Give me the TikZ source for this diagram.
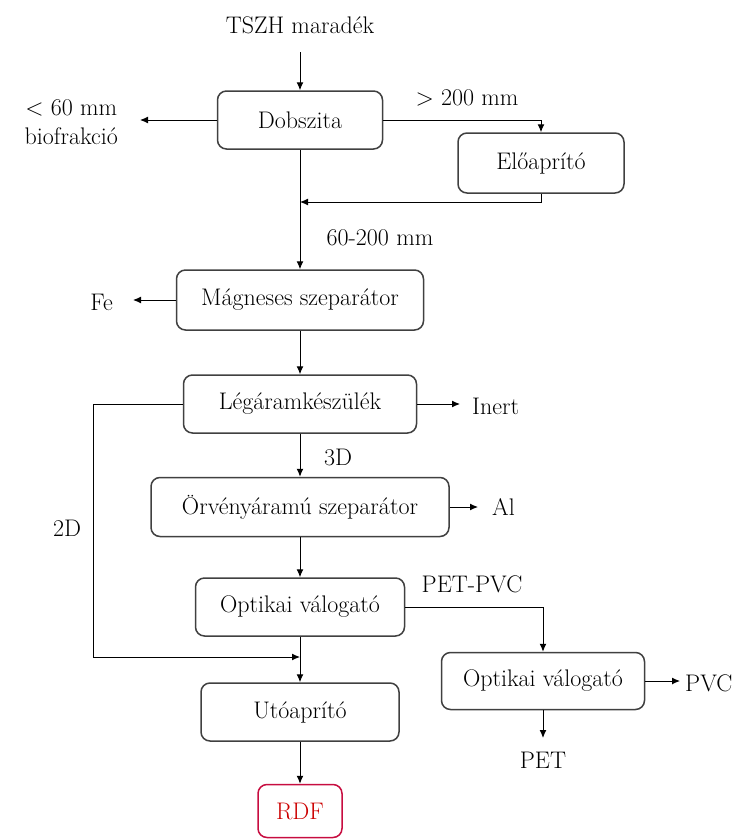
\documentclass[tikz,border=0pt]{standalone}
\usepackage{fontspec}
\usetikzlibrary{arrows.meta,calc}
\definecolor{BoxClr}{rgb}{0.25,0.25,0.25}
\definecolor{RdfClr}{rgb}{0.78,0.05,0.25}
\definecolor{RdfTxt}{rgb}{0.8,0,0}

\begin{document}
\begin{tikzpicture}[x=1pt,y=-1pt,
  font=\fontsize{24}{29}\selectfont,
  unit/.style={draw=BoxClr,line width=1.5pt,rounded corners=9pt,minimum height=58pt,inner sep=0pt},
  lbl/.style={inner xsep=12pt,inner ysep=6pt},
  flow/.style={-{Latex[length=8pt,width=7pt]},line width=1pt}]
\useasboundingbox (0,0) rectangle (736,839);

\node (tszh) at (300,25) {TSZH maradék};
\node[unit,minimum width=165pt] (dob) at (300,120) {Dobszita};
\node[unit,minimum width=166pt,minimum height=60pt] (elo) at (541,163) {Előaprító};
\node[unit,minimum width=247pt,minimum height=60pt] (magn) at (300,300) {Mágneses szeparátor};
\node[unit,minimum width=233pt] (leg) at (300,404) {Légáramkészülék};
\node[unit,minimum width=298pt,minimum height=59pt] (orv) at (300,507) {Örvényáramú szeparátor};
\node[unit,minimum width=209pt] (opt) at (300,607) {Optikai válogató};
\node[unit,minimum width=203pt,minimum height=57pt] (opt2) at (543,681) {Optikai válogató};
\node[unit,minimum width=198pt] (uto) at (300,712) {Utóaprító};
\node[unit,draw=RdfClr,text=RdfTxt,minimum width=84pt,minimum height=53pt] (rdf) at (300,811) {RDF};

\node[lbl,anchor=east,align=center,inner xsep=22pt] (bio) at (140,122) {< 60 mm\\biofrakció};
\node[lbl,anchor=east,inner xsep=20pt] (fe) at (133,302) {Fe};
\node (gt) at (467,98) {> 200 mm};
\node (mid) at (380,238) {60-200 mm};
\node[lbl,anchor=west] (inert) at (460,406) {Inert};
\node (d3) at (338,457) {3D};
\node (d2) at (67,528) {2D};
\node[lbl,anchor=west,inner xsep=14pt] (al) at (478,507) {Al};
\node (pp) at (472,584) {PET-PVC};
\node[lbl,anchor=west,inner xsep=5pt] (pvc) at (680,683) {PVC};
\node[lbl,anchor=north,inner ysep=14pt] (pet) at (543,738) {PET};

\coordinate (j1) at (300,202);
\coordinate (b2) at (93,657);
\coordinate (j2) at (300,657);

\draw[flow] ([yshift=-27pt]tszh.center) -- (dob.north);
\draw[flow] (dob.west) -- (dob.west -| bio.east);
\draw[flow] (dob.east) -| (elo.north);
\draw[flow] (elo.south) |- (j1);
\draw[flow] (dob.south) -- (magn.north);
\draw[flow] (magn.west) -- (magn.west -| fe.east);
\draw[flow] (magn.south) -- (leg.north);
\draw[flow] (leg.east) -- (leg.east -| inert.west);
\draw[flow] (leg.west) -| (b2) -- (j2);
\draw[flow] (leg.south) -- (orv.north);
\draw[flow] (orv.east) -- (orv.east -| al.west);
\draw[flow] (orv.south) -- (opt.north);
\draw[flow] (opt.east) -| (opt2.north);
\draw[flow] (opt2.east) -- (opt2.east -| pvc.west);
\draw[flow] (opt2.south) -- (pet.north);
\draw[flow] (opt.south) -- (uto.north);
\draw[flow] (uto.south) -- (rdf.north);

\end{tikzpicture}
\end{document}
